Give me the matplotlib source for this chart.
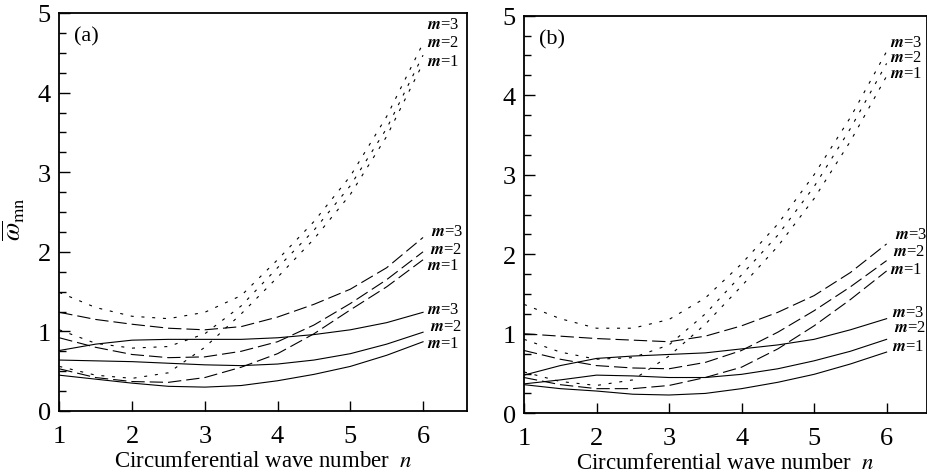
import numpy as np
import matplotlib
matplotlib.use("Agg")
import matplotlib.pyplot as plt
from matplotlib.ticker import MultipleLocator

plt.rcParams['font.family'] = ['Liberation Serif', 'DejaVu Serif']
plt.rcParams['mathtext.fontset'] = 'stix'

# circumferential wave number
n = [1, 1.5, 2, 2.5, 3, 3.5, 4, 4.5, 5, 5.5, 6]

# panel (a)
a_dot_m3 = [1.49, 1.30, 1.19, 1.16, 1.24, 1.45, 1.90, 2.38, 2.95, 3.70, 4.62]
a_dot_m2 = [1.02, 0.85, 0.79, 0.81, 0.97, 1.32, 1.80, 2.27, 2.83, 3.55, 4.47]
a_dot_m1 = [0.56, 0.45, 0.41, 0.48, 0.80, 1.22, 1.68, 2.16, 2.72, 3.45, 4.37]
a_dash_m3 = [1.24, 1.15, 1.09, 1.04, 1.02, 1.06, 1.18, 1.34, 1.53, 1.80, 2.18]
a_dash_m2 = [0.92, 0.80, 0.71, 0.67, 0.68, 0.75, 0.87, 1.08, 1.35, 1.65, 2.00]
a_dash_m1 = [0.53, 0.42, 0.37, 0.36, 0.42, 0.55, 0.72, 0.97, 1.27, 1.56, 1.90]
a_sol_m3 = [0.76, 0.84, 0.89, 0.90, 0.90, 0.90, 0.92, 0.96, 1.02, 1.11, 1.24]
a_sol_m2 = [0.64, 0.63, 0.62, 0.60, 0.58, 0.57, 0.59, 0.64, 0.72, 0.84, 0.99]
a_sol_m1 = [0.45, 0.40, 0.35, 0.31, 0.30, 0.32, 0.38, 0.46, 0.56, 0.70, 0.87]

# panel (b)
b_dot_m3 = [1.37, 1.19, 1.07, 1.07, 1.18, 1.45, 1.88, 2.38, 3.00, 3.72, 4.55]
b_dot_m2 = [0.93, 0.77, 0.68, 0.70, 0.86, 1.25, 1.74, 2.24, 2.85, 3.58, 4.40]
b_dot_m1 = [0.52, 0.40, 0.35, 0.42, 0.72, 1.12, 1.60, 2.10, 2.70, 3.42, 4.24]
b_dash_m3 = [1.00, 0.97, 0.94, 0.92, 0.90, 0.97, 1.10, 1.27, 1.48, 1.77, 2.13]
b_dash_m2 = [0.79, 0.68, 0.60, 0.57, 0.56, 0.64, 0.79, 1.02, 1.29, 1.59, 1.92]
b_dash_m1 = [0.45, 0.36, 0.31, 0.31, 0.35, 0.45, 0.58, 0.81, 1.10, 1.43, 1.79]
b_sol_m3 = [0.48, 0.60, 0.69, 0.72, 0.74, 0.76, 0.81, 0.86, 0.93, 1.05, 1.19]
b_sol_m2 = [0.37, 0.42, 0.48, 0.47, 0.45, 0.45, 0.49, 0.56, 0.66, 0.78, 0.93]
b_sol_m1 = [0.36, 0.31, 0.28, 0.24, 0.23, 0.25, 0.31, 0.39, 0.49, 0.62, 0.77]

m_labels = [r'$\mathbfit{m}$=3', r'$\mathbfit{m}$=2', r'$\mathbfit{m}$=1']

# label positions (x, y) per group: dotted, dashed, solid
a_lab_pos = [[(6.05, 4.86), (6.05, 4.64), (6.05, 4.40)],
             [(6.11, 2.26), (6.09, 2.04), (6.06, 1.83)],
             [(6.06, 1.28), (6.09, 1.07), (6.06, 0.86)]]
b_lab_pos = [[(6.05, 4.67), (6.05, 4.48), (6.05, 4.28)],
             [(6.11, 2.26), (6.09, 2.04), (6.05, 1.82)],
             [(6.08, 1.27), (6.10, 1.08), (6.08, 0.85)]]

dot_style = dict(color='black', lw=0.8, dashes=(2.7, 7.0))
dash_style = dict(color='black', lw=0.8, dashes=(12, 4.5))
sol_style = dict(color='black', lw=0.8)

fig = plt.figure(figsize=(9.28, 4.77), dpi=100)
ax_a = fig.add_axes([59.3 / 928, 1 - 412 / 477, 407.4 / 928, 398 / 477])
ax_b = fig.add_axes([524 / 928, 1 - 414.3 / 477, 402.5 / 928, 397.6 / 477])

panels = [
    (ax_a, '(a)', 6.6,
     [a_dot_m3, a_dot_m2, a_dot_m1], [a_dash_m3, a_dash_m2, a_dash_m1],
     [a_sol_m3, a_sol_m2, a_sol_m1], a_lab_pos),
    (ax_b, '(b)', 6.55,
     [b_dot_m3, b_dot_m2, b_dot_m1], [b_dash_m3, b_dash_m2, b_dash_m1],
     [b_sol_m3, b_sol_m2, b_sol_m1], b_lab_pos),
]

for ax, tag, xmax, dots, dashes, sols, lab_pos in panels:
    for y in dots:
        ax.plot(n, y, **dot_style)
    for y in dashes:
        ax.plot(n, y, **dash_style)
    for y in sols:
        ax.plot(n, y, **sol_style)

    for group in lab_pos:
        for (x, y), lab in zip(group, m_labels):
            ax.text(x, y, lab, fontsize=12, ha='left', va='center', clip_on=False)

    ax.text(1.2, 4.71, tag, fontsize=16, ha='left', va='center')

    ax.set_xlim(1, xmax)
    ax.set_ylim(0, 5)
    ax.xaxis.set_major_locator(MultipleLocator(1))
    ax.yaxis.set_major_locator(MultipleLocator(1))
    ax.yaxis.set_minor_locator(MultipleLocator(0.25))
    ax.tick_params(axis='both', which='both', direction='in', top=False, right=False,
                   labelsize=19, width=1.0)
    ax.tick_params(axis='y', which='major', length=8, pad=6)
    ax.tick_params(axis='y', which='minor', length=5)
    ax.tick_params(axis='x', which='major', length=7, pad=10)
    for sp in ax.spines.values():
        sp.set_linewidth(1.3)
    ax.set_xlabel('Circumferential wave number  $n$', fontsize=16.5, labelpad=2)

fig.text(14 / 928, 1 - 219 / 477, r'$\overline{\omega}_{\rm mn}$', fontsize=19,
         rotation=90, ha='center', va='center')

fig.savefig('out.png', dpi=100)
